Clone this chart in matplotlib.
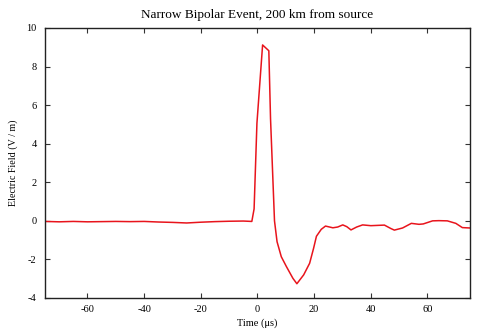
import matplotlib
matplotlib.use("Agg")
import matplotlib.pyplot as plt

# Electric field record of a narrow bipolar event
time_us = [-75, -70, -65, -60, -55, -50, -45, -40, -35, -30, -25, -20, -15,
           -10, -5, -2, -1.2, -0.2, 1.8, 4.0, 4.6, 6.0, 6.9, 8.4, 10.2, 12.5,
           13.9, 16.3, 18.4, 19.8, 20.8, 22.5, 24.0, 26.6, 28.3, 30.1, 31.5,
           33.0, 35.0, 37.1, 40.0, 44.8, 47.1, 48.3, 51.2, 54.3, 57.0, 58.5,
           61.8, 64.0, 67.0, 70.0, 72.3, 75.0]
field_vm = [-0.03, -0.05, -0.03, -0.05, -0.04, -0.03, -0.04, -0.03, -0.06,
            -0.08, -0.11, -0.07, -0.04, -0.02, -0.01, -0.03, 0.62, 5.06, 9.12,
            8.82, 5.3, 0.0, -1.08, -1.86, -2.37, -2.98, -3.26, -2.8, -2.2,
            -1.42, -0.8, -0.44, -0.27, -0.36, -0.32, -0.21, -0.30, -0.47,
            -0.32, -0.21, -0.25, -0.22, -0.40, -0.48, -0.37, -0.13, -0.18,
            -0.16, 0.0, 0.01, 0.0, -0.13, -0.35, -0.37]

x_ticks = [-60, -40, -20, 0, 20, 40, 60]
y_ticks = [-4, -2, 0, 2, 4, 6, 8, 10]

plt.rcParams['font.family'] = ['Liberation Serif', 'DejaVu Serif']
plt.rcParams['axes.unicode_minus'] = False

fig = plt.figure(figsize=(4.8, 3.36), dpi=100)
ax = fig.add_axes([0.09375, 0.1131, 0.8854, 0.8036])

ax.plot(time_us, field_vm, color='#e8141c', linewidth=1.1)

ax.set_xlim(-75, 75)
ax.set_ylim(-4, 10)
ax.set_xticks(x_ticks)
ax.set_yticks(y_ticks)
ax.tick_params(direction='in', length=3.5, width=0.8, labelsize=7.5,
               top=True, right=True, color='#333333')
ax.tick_params(axis='x', pad=5)
ax.tick_params(axis='y', pad=6)
for s in ax.spines.values():
    s.set_linewidth(1.0)
    s.set_color('#222222')

ax.set_title('Narrow Bipolar Event, 200 km from source', fontsize=9.5, pad=7)
ax.set_xlabel('Time (\u03bcs)', fontsize=7.5, labelpad=3)
ax.set_ylabel('Electric Field (V / m)', fontsize=7.2, va='center')
ax.yaxis.set_label_coords(-0.075, 0.5)

fig.savefig('out.png', dpi=100)
